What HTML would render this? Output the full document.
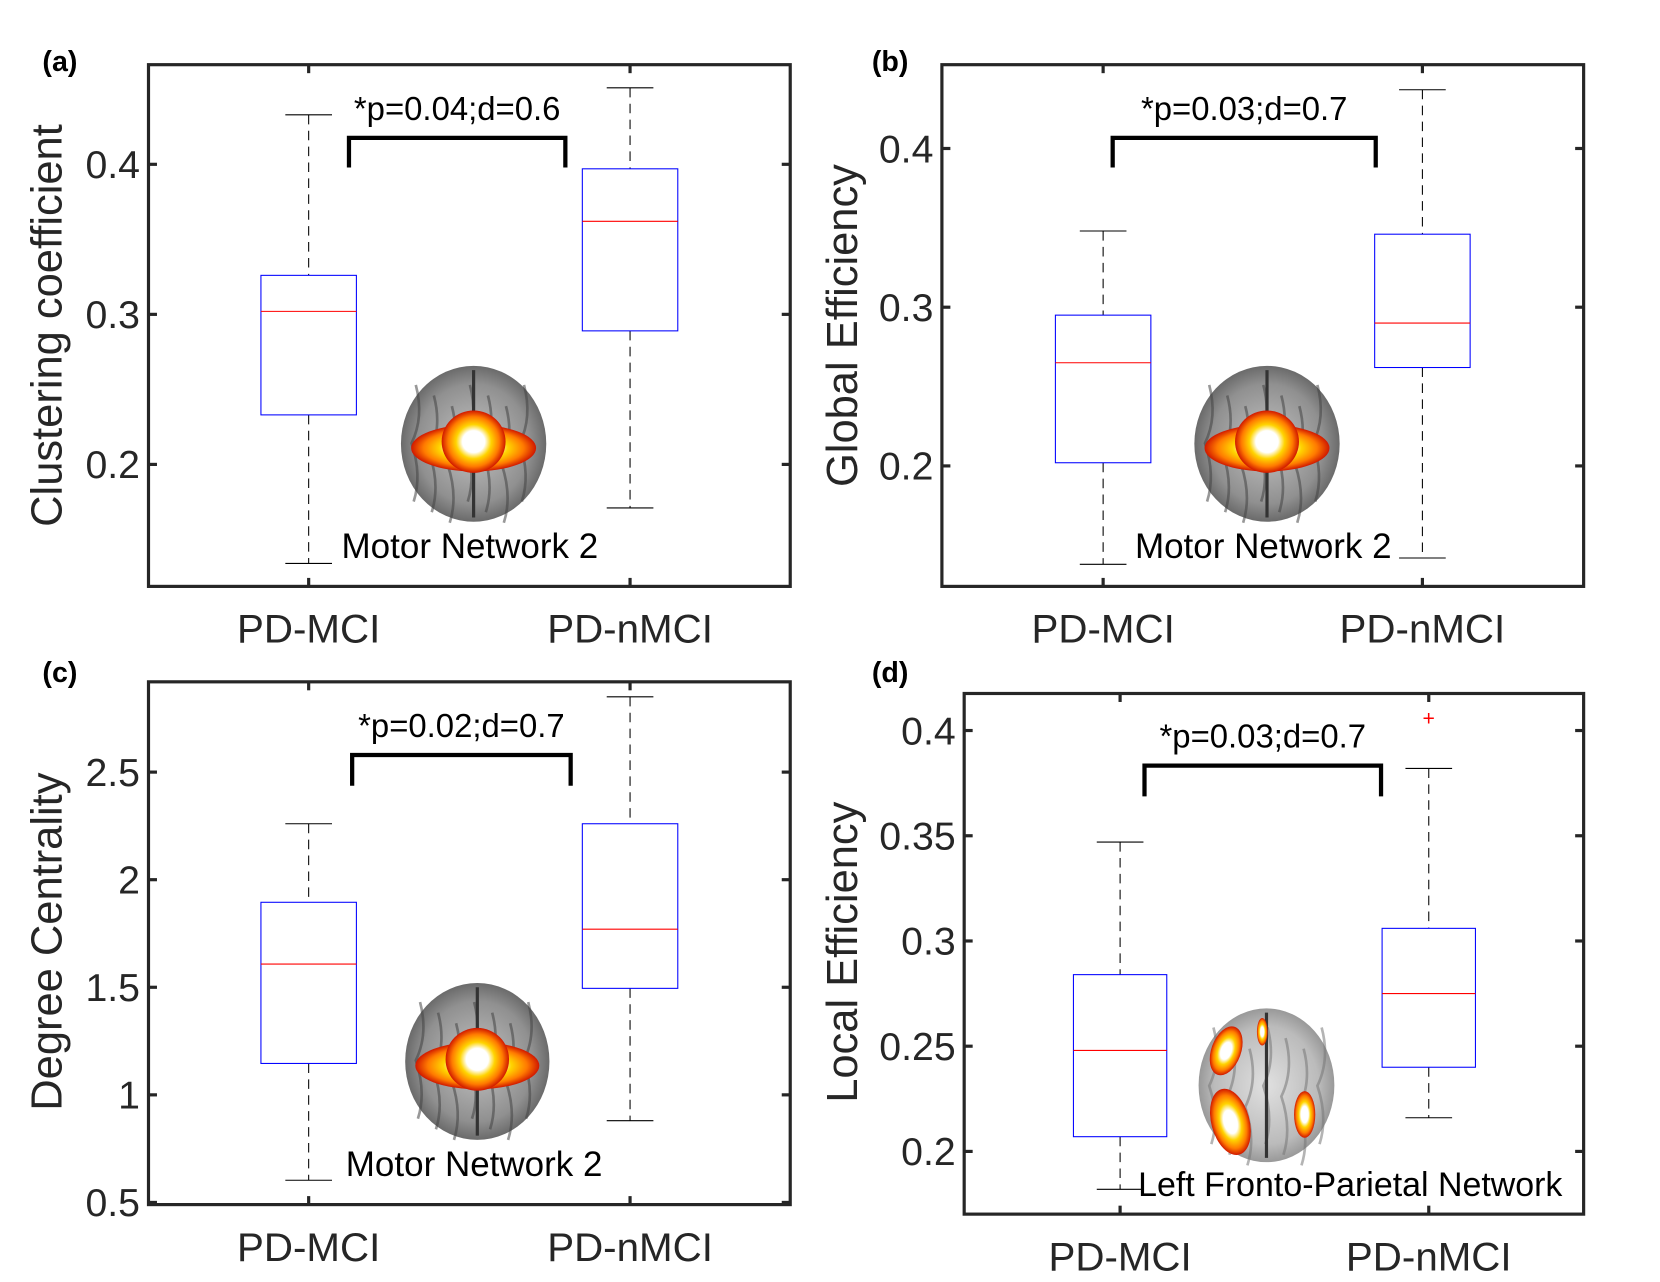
<!DOCTYPE html>
<html><head><meta charset="utf-8"><style>
html,body{margin:0;padding:0;background:#fff;}
svg{display:block;}
</style></head><body>
<svg id="fig" width="1660" height="1282" viewBox="0 0 1565 1209" preserveAspectRatio="none" xmlns="http://www.w3.org/2000/svg">
<defs>
<radialGradient id="hot" cx="50%" cy="50%" r="50%">
<stop offset="0" stop-color="#fff"/><stop offset="0.35" stop-color="#fff"/><stop offset="0.55" stop-color="#ffd400"/><stop offset="0.8" stop-color="#ff7a00"/><stop offset="1" stop-color="#d01800"/>
</radialGradient>
<radialGradient id="brainG" cx="50%" cy="50%" r="55%">
<stop offset="0" stop-color="#c4c4c4"/><stop offset="0.7" stop-color="#909090"/><stop offset="1" stop-color="#5a5a5a"/>
</radialGradient>
<radialGradient id="brainL" cx="50%" cy="50%" r="55%">
<stop offset="0" stop-color="#e0e0e0"/><stop offset="0.7" stop-color="#bbb"/><stop offset="1" stop-color="#8a8a8a"/>
</radialGradient>
</defs>
</svg>
<script>
const NS='http://www.w3.org/2000/svg';
const svg=document.getElementById('fig');
const categories=['PD-MCI','PD-nMCI'];
// panel (a) Clustering coefficient
const aMin=[0.134,0.171], aQ1=[0.233,0.289], aMed=[0.302,0.362], aQ3=[0.326,0.397], aMax=[0.433,0.451];
const aTicks=[0.2,0.3,0.4];
// panel (b) Global efficiency
const bMin=[0.138,0.142], bQ1=[0.202,0.262], bMed=[0.265,0.290], bQ3=[0.295,0.346], bMax=[0.348,0.437];
const bTicks=[0.2,0.3,0.4];
// panel (c) Degree centrality
const cMin=[0.603,0.88], cQ1=[1.146,1.495], cMed=[1.608,1.77], cQ3=[1.895,2.26], cMax=[2.26,2.85];
const cTicks=[0.5,1,1.5,2,2.5];
const cTickLabels=['0.5','1','1.5','2','2.5'];
// panel (d) Local efficiency
const dMin=[0.182,0.216], dQ1=[0.207,0.240], dMed=[0.248,0.275], dQ3=[0.284,0.306], dMax=[0.347,0.382];
const dOutliers=[[1,0.406]];
const dTicks=[0.2,0.25,0.3,0.35,0.4];

function el(tag,attrs,parent){const e=document.createElementNS(NS,tag);for(const k in attrs)e.setAttribute(k,attrs[k]);(parent||svg).appendChild(e);return e;}

function panel(p){
  const g=el('g',{});
  
  
  const y=v=>p.y0+(p.ymax-v)/(p.ymax-p.ymin)*(p.y1-p.y0);
  const x=i=>p.xc[i];
  const pl=el('text',{x:p.lx,y:p.ly,'font-family':'Liberation Sans, sans-serif','font-weight':'bold','font-size':27},g);
  pl.textContent='('+p.id+')';
  
  
  const br=el('g',{},g);
  
  
  const b=p.brain;
  const bw=b[2]-b[0], bh=b[3]-b[1], bcx=(b[0]+b[2])/2, bcy=(b[1]+b[3])/2;
  el('ellipse',{cx:bcx,cy:bcy,rx:bw/2,ry:bh/2,fill:p.light?'url(#brainL)':'url(#brainG)'},br);
  for(let k=0;k<7;k++){el('path',{d:`M${b[0]+14+k*17} ${b[1]+18+(k%3)*10} q8 30 -4 55 q10 30 2 55`,stroke:p.light?'#777':'#444','stroke-width':2.5,fill:'none',opacity:0.55},br);}
  el('line',{x1:bcx,y1:b[1]+4,x2:bcx,y2:b[3]-4,stroke:'#333','stroke-width':3},br);
  if(!p.light){
    el('ellipse',{cx:bcx,cy:bcy+4,rx:bw*0.43,ry:bh*0.15,fill:'url(#hot)'},br);
    el('ellipse',{cx:bcx,cy:bcy-2,rx:bw*0.22,ry:bh*0.2,fill:'url(#hot)'},br);
  } else {
    el('ellipse',{cx:b[0]+26,cy:b[1]+40,rx:14,ry:24,fill:'url(#hot)',transform:`rotate(20 ${b[0]+26} ${b[1]+40})`},br);
    el('ellipse',{cx:b[0]+30,cy:b[3]-38,rx:18,ry:32,fill:'url(#hot)',transform:`rotate(-15 ${b[0]+30} ${b[3]-38})`},br);
    el('ellipse',{cx:b[2]-28,cy:b[3]-45,rx:10,ry:22,fill:'url(#hot)'},br);
    el('ellipse',{cx:bcx-4,cy:b[1]+22,rx:5,ry:13,fill:'url(#hot)'},br);
  }
  for(let i=0;i<2;i++){
    const bx=el('g',{},g);
    
    
    const xc=x(i), hw=p.hw, cw=22;
    el('line',{x1:xc,y1:y(p.max[i]),x2:xc,y2:y(p.q3[i]),stroke:'#000','stroke-width':1,'stroke-dasharray':'9,6'},bx);
    el('line',{x1:xc,y1:y(p.q1[i]),x2:xc,y2:y(p.min[i]),stroke:'#000','stroke-width':1,'stroke-dasharray':'9,6'},bx);
    el('line',{x1:xc-cw,y1:y(p.max[i]),x2:xc+cw,y2:y(p.max[i]),stroke:'#000','stroke-width':1},bx);
    el('line',{x1:xc-cw,y1:y(p.min[i]),x2:xc+cw,y2:y(p.min[i]),stroke:'#000','stroke-width':1},bx);
    el('rect',{x:xc-hw,y:y(p.q3[i]),width:2*hw,height:y(p.q1[i])-y(p.q3[i]),fill:'none',stroke:'#00f','stroke-width':1},bx);
    el('line',{x1:xc-hw,y1:y(p.med[i]),x2:xc+hw,y2:y(p.med[i]),stroke:'#f00','stroke-width':1},bx);
  }
  (p.out||[]).forEach(o=>{
    const t=el('text',{x:x(o[0]),y:y(o[1])+7,'text-anchor':'middle','font-family':'Liberation Sans, sans-serif','font-size':20,fill:'#f00'},g);
    t.textContent='+';
    
    
  });
  const ax=el('rect',{x:p.x0,y:p.y0,width:p.x1-p.x0,height:p.y1-p.y0,fill:'none',stroke:'#262626','stroke-width':3},g);
  
  
  p.ticks.forEach((v,k)=>{
    el('line',{x1:p.x0,y1:y(v),x2:p.x0+8,y2:y(v),stroke:'#262626','stroke-width':3},g);
    el('line',{x1:p.x1-8,y1:y(v),x2:p.x1,y2:y(v),stroke:'#262626','stroke-width':3},g);
    const t=el('text',{x:p.x0-8,y:y(v)+13,'text-anchor':'end','font-family':'Liberation Sans, sans-serif','font-size':37,fill:'#262626'},g);
    t.textContent=p.tl?p.tl[k]:String(v);
    
    
  });
  for(let i=0;i<2;i++){
    el('line',{x1:x(i),y1:p.y1,x2:x(i),y2:p.y1-8,stroke:'#262626','stroke-width':3},g);
    el('line',{x1:x(i),y1:p.y0,x2:x(i),y2:p.y0+8,stroke:'#262626','stroke-width':3},g);
    const t=el('text',{x:x(i),y:p.y1+53,'text-anchor':'middle','font-family':'Liberation Sans, sans-serif','font-size':38,fill:'#262626'},g);
    t.textContent=categories[i];
    
    
  }
  const yl=el('text',{x:0,y:0,'text-anchor':'middle','font-family':'Liberation Sans, sans-serif','font-size':41,fill:'#262626',transform:`translate(${p.ylx},${p.ylc}) rotate(-90)`},g);
  yl.textContent=p.ylabel;
  
  
  const bk=el('path',{d:`M${p.br[0]} ${p.br[3]} V${p.br[2]} H${p.br[1]} V${p.br[3]}`,fill:'none',stroke:'#000','stroke-width':4},g);
  
  
  const st=el('text',{x:(p.br[0]+p.br[1])/2,y:p.br[2]-17,'text-anchor':'middle','font-family':'Liberation Sans, sans-serif','font-size':31,fill:'#000'},g);
  st.textContent=p.stat;
  
  
  const cap=el('text',{x:p.cap[0],y:p.cap[1],'font-family':'Liberation Sans, sans-serif','font-size':p.capfs||33,fill:'#000'},g);
  cap.textContent=p.caption;
  
  
}
panel({id:'a',x0:140,x1:745,y0:61,y1:553,ymin:0.1187,ymax:0.4664,xc:[291,594],hw:45,min:aMin,q1:aQ1,med:aMed,q3:aQ3,max:aMax,ticks:aTicks,
  ylabel:'Clustering coefficient',ylx:58,ylc:307,br:[329,533,130,158],stat:'*p=0.04;d=0.6',brain:[378,345,515,492],cap:[322,526],caption:'Motor Network 2',lx:40,ly:67});
panel({id:'b',x0:888,x1:1493,y0:61,y1:553,ymin:0.1241,ymax:0.4528,xc:[1040,1341],hw:45,min:bMin,q1:bQ1,med:bMed,q3:bQ3,max:bMax,ticks:bTicks,
  ylabel:'Global Efficiency',ylx:808,ylc:307,br:[1049,1297,130,158],stat:'*p=0.03;d=0.7',brain:[1126,345,1263,492],cap:[1070,526],caption:'Motor Network 2',lx:822,ly:67});
panel({id:'c',x0:140,x1:745,y0:643,y1:1136,ymin:0.49,ymax:2.9196,xc:[291,594],hw:45,min:cMin,q1:cQ1,med:cMed,q3:cQ3,max:cMax,ticks:cTicks,tl:cTickLabels,
  ylabel:'Degree Centrality',ylx:58,ylc:888,br:[332,538,712,741],stat:'*p=0.02;d=0.7',brain:[382,927,518,1075],cap:[326,1109],caption:'Motor Network 2',lx:40,ly:643});
panel({id:'d',x0:909,x1:1493,y0:654,y1:1145,ymin:0.1702,ymax:0.4176,xc:[1056,1347],hw:44,min:dMin,q1:dQ1,med:dMed,q3:dQ3,max:dMax,out:dOutliers,ticks:dTicks,
  ylabel:'Local Efficiency',ylx:808,ylc:898,br:[1079,1302,722,751],stat:'*p=0.03;d=0.7',brain:[1130,951,1258,1096],light:true,cap:[1073,1128],caption:'Left Fronto-Parietal Network',capfs:32,lx:822,ly:643});
</script>
</body></html>
